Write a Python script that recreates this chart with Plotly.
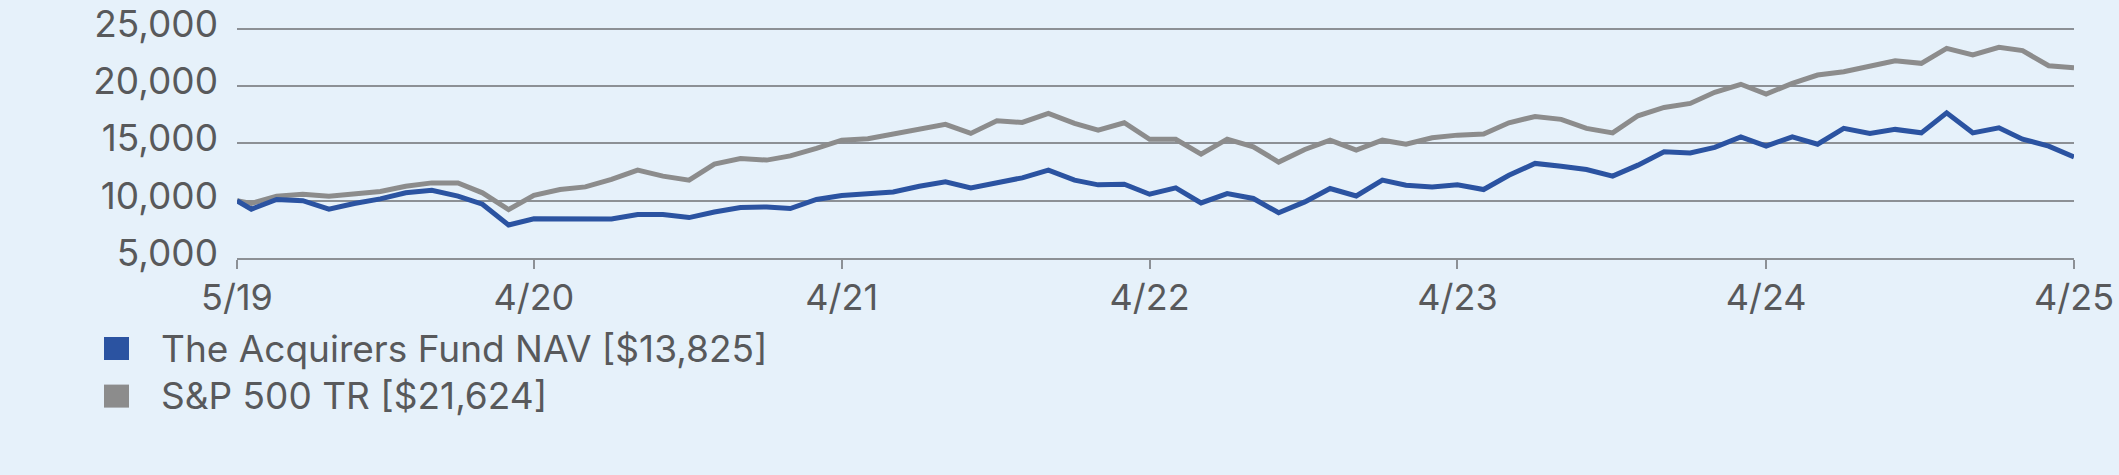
import pandas as pd
import plotly.graph_objects as go

# ---- data ----
start_date = "2019-05-14"
month_ends = pd.date_range("2019-05-31", "2025-04-30", freq="ME").strftime("%Y-%m-%d").tolist()
dates = [start_date] + month_ends

fund_name = "The Acquirers Fund NAV [$13,825]"
index_name = "S&P 500 TR [$21,624]"

fund_values = [10000, 9260, 10110, 10000, 9260, 9760, 10160, 10690, 10920, 10400, 9700, 7880,
               8420, 8410, 8410, 8410, 8800, 8800, 8530, 9020, 9410, 9460, 9320, 10110,
               10460, 10660, 10770, 11270, 11650, 11120, 11620, 12000, 12670, 11800, 11390, 11450,
               10570, 11120, 9810, 10630, 10200, 8950, 9900, 11070, 10420, 11800, 11360, 11210,
               11390, 10980, 12230, 13260, 13020, 12730, 12150, 13110, 14270, 14180, 14660, 15580,
               14770, 15580, 14940, 16320, 15880, 16230, 15930, 17680, 15930, 16370, 15380, 14770,
               13825]

index_values = [10000, 9760, 10400, 10570, 10400, 10570, 10810, 11270, 11560, 11560, 10690, 9230,
                10480, 10980, 11210, 11860, 12670, 12150, 11800, 13200, 13690, 13550, 13920, 14570,
                15290, 15410, 15790, 16170, 16670, 15880, 16980, 16840, 17630, 16760, 16170, 16810,
                15360, 15360, 14070, 15380, 14710, 13380, 14480, 15290, 14420, 15290, 14940, 15500,
                15730, 15820, 16810, 17360, 17110, 16320, 15930, 17420, 18150, 18500, 19470, 20170,
                19320, 20250, 20980, 21270, 21770, 22230, 22000, 23310, 22730, 23400, 23110, 21790,
                21624]

x_tick_dates = ["2019-05-14", "2020-04-30", "2021-04-30", "2022-04-30", "2023-04-30", "2024-04-30", "2025-04-30"]
x_tick_labels = ["5/19", "4/20", "4/21", "4/22", "4/23", "4/24", "4/25"]
y_ticks = [5000, 10000, 15000, 20000, 25000]

# ---- style ----
W, H = 2119, 475
ML, MR, MT, MB = 237, 45, 26, 217
BG = "#E6F1FA"
TEXT = "#58595B"
GRID = "#8C9095"
BLUE = "#2B53A1"
GRAY = "#8C8C8C"
FONT = "Inter, 'Liberation Sans', Arial, sans-serif"
FS = 37

fig = go.Figure()
fig.add_trace(go.Scatter(x=dates, y=index_values, mode="lines", name=index_name,
                         line=dict(color=GRAY, width=5), showlegend=False))
fig.add_trace(go.Scatter(x=dates, y=fund_values, mode="lines", name=fund_name,
                         line=dict(color=BLUE, width=5), showlegend=False))

# manual legend (squares + labels), positioned in pixels and converted to paper coords
pw, ph = W - ML - MR, H - MT - MB
def px(x):
    return (x - ML) / pw
def py(y):
    return (H - MB - y) / ph

legend_items = [(fund_name, BLUE), (index_name, GRAY)]
shapes = []
annotations = []
for i, (label, color) in enumerate(legend_items):
    top = 337 + i * 47.6
    shapes.append(dict(type="rect", xref="paper", yref="paper",
                       x0=px(104), x1=px(129), y0=py(top + 23), y1=py(top),
                       fillcolor=color, line=dict(width=0)))
    annotations.append(dict(text=label, xref="paper", yref="paper",
                            x=px(159), y=py(top + 11), xanchor="left", yanchor="middle",
                            showarrow=False, font=dict(family=FONT, size=FS, color=TEXT)))

fig.update_layout(
    width=W, height=H,
    margin=dict(l=ML, r=MR, t=MT, b=MB, pad=0, autoexpand=False),
    paper_bgcolor=BG, plot_bgcolor=BG,
    font=dict(family=FONT, size=FS, color=TEXT),
    showlegend=False,
    shapes=shapes,
    annotations=annotations,
    xaxis=dict(type="date", range=["2019-05-14", "2025-04-30"],
               tickvals=x_tick_dates, ticktext=x_tick_labels,
               showgrid=False, zeroline=False, automargin=False,
               showline=True, linecolor=GRID, linewidth=2,
               ticks="outside", ticklen=9, tickwidth=1.5, tickcolor=GRID,
               ticklabelstandoff=-2,
               tickfont=dict(family=FONT, size=36, color=TEXT)),
    yaxis=dict(range=[5000, 25260], tickvals=y_ticks, tickformat=",",
               showgrid=True, gridcolor=GRID, gridwidth=2,
               zeroline=False, showline=False, ticks="", automargin=False,
               ticklabelstandoff=18, ticklabelshift=-5,
               tickfont=dict(family=FONT, size=FS, color=TEXT)),
)

fig.write_html("out.html", config={"displayModeBar": False},
               post_script="document.body.style.margin='0';document.body.style.overflow='hidden';")
